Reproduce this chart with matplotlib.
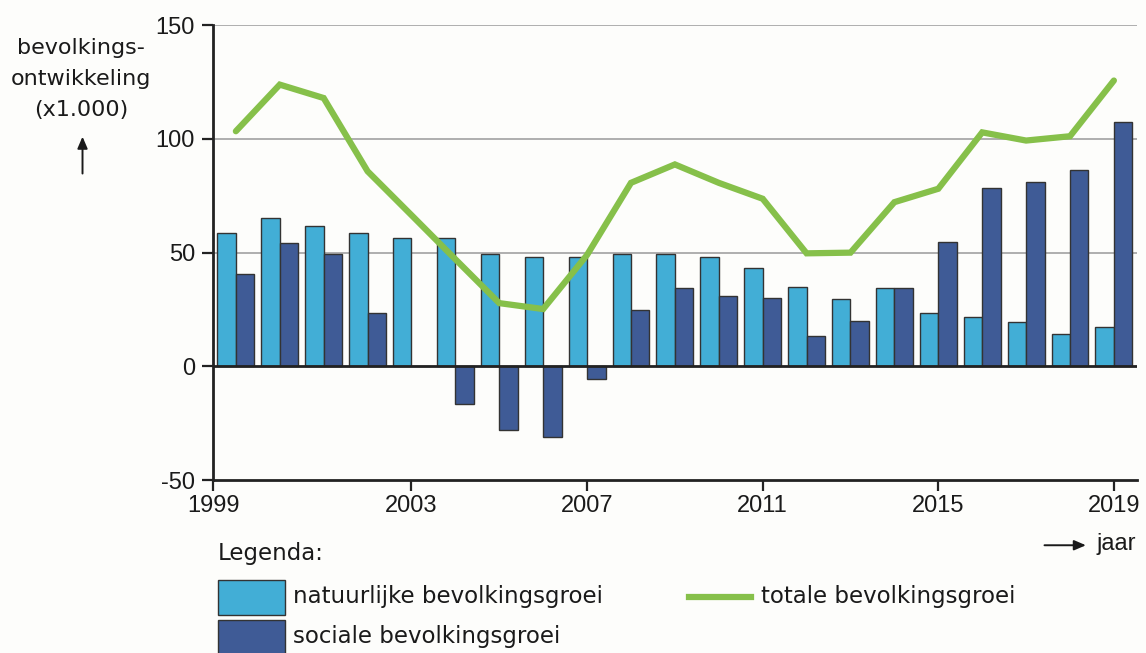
import matplotlib.pyplot as plt
import numpy as np
from matplotlib.lines import Line2D
from matplotlib.patches import FancyArrowPatch, Rectangle

plt.rcParams["font.family"] = ["Liberation Sans", "DejaVu Sans"]
plt.rcParams["axes.unicode_minus"] = False

# Bevolkingsontwikkeling Nederland (x1.000)
jaren = list(range(1999, 2020))
natuurlijk = [58.6, 65.4, 61.8, 58.6, 56.4, 56.4, 49.6, 47.9, 47.9, 49.6, 49.4,
              47.9, 43.2, 35.1, 29.6, 34.4, 23.3, 21.7, 19.3, 14.2, 17.1]
sociaal = [40.4, 54.2, 49.6, 23.5, 0.0, -16.5, -27.8, -31.2, -5.4, 24.8, 34.4,
           31.0, 30.0, 13.2, 19.8, 34.4, 54.9, 78.3, 81.1, 86.2, 107.6]
totaal = [103.4, 123.9, 118.0, 85.8, 66.5, 47.1, 27.8, 25.2, 49.0, 80.7, 88.8,
          80.7, 73.7, 49.7, 50.0, 72.2, 78.1, 102.9, 99.3, 101.2, 125.7]
x_ticks = [1998.48, 2003, 2007, 2011, 2015, 2019]
x_labels = ["1999", "2003", "2007", "2011", "2015", "2019"]

LICHT = "#42aed6"
DONKER = "#3f5b96"
GROEN = "#86c04a"
BG = "#fdfdfb"
TXT = "#1a1a1a"
WIDE = "DejaVu Sans"  # breder lettertype voor legenda / as-label

fig = plt.figure(figsize=(11.46, 6.53), dpi=100, facecolor=BG)
ax = fig.add_axes([0.1859, 0.2649, 0.806, 0.6964], facecolor=BG)

x = np.array(jaren, dtype=float)
w = 0.42
for y in (50, 100, 150):
    ax.axhline(y, color="#a8a8a8", lw=1.3, zorder=0)
ax.bar(x - w / 2, natuurlijk, w, color=LICHT, edgecolor="#333333", lw=1.0, zorder=2)
ax.bar(x + w / 2, sociaal, w, color=DONKER, edgecolor="#333333", lw=1.0, zorder=2)
ax.axhline(0, color="#222222", lw=2, zorder=3)
ax.plot(x, totaal, color=GROEN, lw=4.5, solid_capstyle="round",
        solid_joinstyle="miter", zorder=4)

ax.set_xlim(1998.48, 2019.52)
ax.set_ylim(-50, 150)
ax.set_yticks([-50, 0, 50, 100, 150])
ax.set_xticks(x_ticks)
ax.set_xticklabels(x_labels)
for s in ("top", "right"):
    ax.spines[s].set_visible(False)
for s in ("left", "bottom"):
    ax.spines[s].set_linewidth(2)
    ax.spines[s].set_color("#222222")
ax.tick_params(axis="both", direction="out", length=8, width=1.6,
               color="#222222", labelsize=17, labelcolor=TXT)
ax.tick_params(axis="x", pad=3)
ax.tick_params(axis="y", pad=5)

# as-label
fig.text(0.071, 0.942, "bevolkings-\nontwikkeling\n(x1.000)", ha="center",
         va="top", fontsize=16, linespacing=1.7, family=WIDE, color=TXT)
fig.patches.append(FancyArrowPatch(
    (0.072, 0.730), (0.072, 0.795), transform=fig.transFigure,
    arrowstyle="-|>,head_length=7,head_width=3", color=TXT, lw=1.4))

# x-as pijl
fig.patches.append(FancyArrowPatch(
    (0.909, 0.165), (0.950, 0.165), transform=fig.transFigure,
    arrowstyle="-|>,head_length=7,head_width=3", color=TXT, lw=1.4))
fig.text(0.957, 0.167, "jaar", ha="left", va="center", fontsize=17, color=TXT)

# legenda
fig.text(0.190, 0.153, "Legenda:", ha="left", va="center", fontsize=16.5,
         family=WIDE, color=TXT)
fig.patches.append(Rectangle((0.190, 0.058), 0.059, 0.054, transform=fig.transFigure,
                             facecolor=LICHT, edgecolor="#333333", lw=1))
fig.text(0.256, 0.086, "natuurlijke bevolkingsgroei", ha="left", va="center",
         fontsize=16.5, family=WIDE, color=TXT)
fig.patches.append(Rectangle((0.190, -0.01), 0.059, 0.06, transform=fig.transFigure,
                             facecolor=DONKER, edgecolor="#333333", lw=1))
fig.text(0.256, 0.026, "sociale bevolkingsgroei", ha="left", va="center",
         fontsize=16.5, family=WIDE, color=TXT)
fig.lines.append(Line2D([0.601, 0.655], [0.085, 0.085], transform=fig.transFigure,
                        color=GROEN, lw=4.5))
fig.text(0.664, 0.086, "totale bevolkingsgroei", ha="left", va="center",
         fontsize=16.5, family=WIDE, color=TXT)

fig.savefig("out.png", dpi=100, facecolor=BG)
